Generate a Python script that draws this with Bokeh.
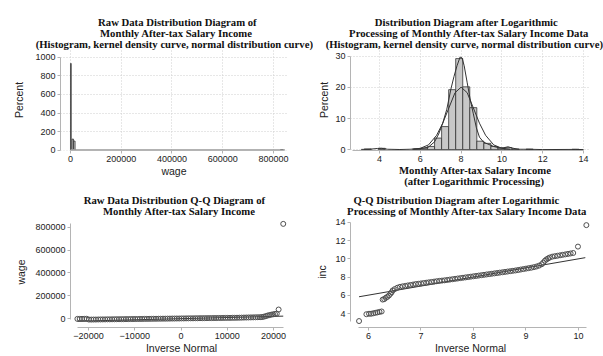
from bokeh.plotting import figure
from bokeh.layouts import column, row
from bokeh.models import Range1d, FixedTicker, BasicTickFormatter, Title
from bokeh.embed import file_html
from bokeh.resources import INLINE

# ---------------- data ----------------
# Panel 1: raw wage histogram (percent)
raw_bin_left = [0, 6000, 12000, 828000]
raw_bin_right = [3000, 12000, 18000, 838000]
raw_bin_pct = [935, 118, 97, 5]
raw_curve_x = [0, 20000, 60000, 200000, 500000, 845000]
raw_curve_y = [3, 2, 1, 0.5, 0.5, 0.5]
raw_hist_xticks = [0, 200000, 400000, 600000, 800000]
raw_hist_yticks = [0, 200, 400, 600, 800, 1000]

# Panel 2: log wage histogram (percent)
log_bin_left = [3.25, 3.94, 5.665, 6.01, 6.355, 6.70, 7.045, 7.39, 7.735, 8.08,
                8.425, 8.77, 9.115, 9.46, 9.805, 10.15, 10.495, 11.185, 13.435]
log_bin_right = [3.595, 4.285, 6.01, 6.355, 6.70, 7.045, 7.39, 7.735, 8.08, 8.425,
                 8.77, 9.115, 9.46, 9.805, 10.15, 10.495, 10.84, 11.53, 13.78]
log_bin_pct = [0.2, 0.4, 0.2, 0.4, 1.0, 3.7, 7.4, 19.3, 29.3, 20.2,
               13.5, 2.7, 2.0, 1.0, 0.5, 0.6, 0.2, 0.15, 0.1]
kde_x = [3.1, 3.5, 3.9, 4.1, 4.4, 5.0, 5.5, 6.0, 6.4, 6.7, 6.9, 7.1, 7.3, 7.5,
         7.65, 7.8, 7.95, 8.05, 8.15, 8.3, 8.45, 8.6, 8.75, 8.9, 9.1, 9.3, 9.6,
         9.9, 10.1, 10.3, 10.5, 10.8, 11.3, 12.0, 13.6, 14.0]
kde_y = [0.05, 0.1, 0.35, 0.4, 0.1, 0.02, 0.1, 0.3, 0.8, 2.5, 5.0, 8.5, 13.0, 19.5,
         23.5, 27.0, 29.8, 29.5, 27.0, 21.5, 16.0, 11.5, 7.0, 4.0, 2.4, 1.8, 1.0,
         0.5, 0.6, 0.9, 0.5, 0.1, 0.1, 0.0, 0.05, 0.0]
norm_x = [5.6, 6.0, 6.4, 6.8, 7.1, 7.4, 7.7, 8.0, 8.3, 8.6, 8.9, 9.2, 9.6, 10.0, 10.4]
norm_y = [0.1, 0.4, 1.5, 4.6, 8.5, 13.4, 18.3, 20.1, 18.3, 13.4, 8.5, 4.6, 1.5, 0.4, 0.1]
log_hist_xticks = [4, 6, 8, 10, 12, 14]
log_hist_yticks = [0, 10, 20, 30]

# Panel 3: Q-Q of raw wage
qq_raw_x = [-22400, -21900, -21400, -20900, -20400,
            -19900, -19400, -18900, -18400, -17900, -17400, -16900, -16400, -15900, -15400,
            -14900, -14400, -13900, -13400, -12900, -12400, -11900, -11400, -10900, -10400,
            -9900, -9400, -8900, -8400, -7900, -7400, -6900, -6400, -5900, -5400,
            -4900, -4400, -3900, -3400, -2900, -2400, -1900, -1400, -900, -400,
            100, 600, 1100, 1600, 2100, 2600, 3100, 3600, 4100, 4600,
            5100, 5600, 6100, 6600, 7100, 7600, 8100, 8600, 9100, 9600,
            10100, 10600, 11100, 11600, 12100, 12600, 13100, 13600, 14100, 14600,
            15100, 15600, 16100, 16600, 17100,
            17500, 17900, 18300, 18700, 19100, 19500, 19900, 20300, 20700,
            21100, 22100]
qq_raw_y = [-2000, -2000, -1500, -1500, -1000,
            -8000, -8000, -7500, -7500, -7000, -7000, -6500, -6500, -6000, -6000,
            -5500, -5500, -5000, -5000, -4500, -4500, -4000, -4000, -3500, -3500,
            -3000, -3000, -2500, -2500, -2000, -2000, -1500, -1500, -1000, -1000,
            -500, -500, 0, 0, 500, 500, 1000, 1000, 1500, 1500,
            2000, 2000, 2500, 2500, 3000, 3000, 3500, 3500, 4000, 4000,
            4500, 4500, 5000, 5000, 5500, 5500, 6000, 6000, 6500, 6500,
            7000, 7000, 7500, 7500, 8000, 8500, 9000, 9500, 10000, 10500,
            11000, 11500, 12000, 12500, 13000,
            14000, 17000, 22000, 27000, 31000, 35000, 38000, 41000, 44000,
            80000, 830000]
qq_raw_line_x = [-22400, 22100]
qq_raw_line_y = [-22400, 22100]
qq_raw_xticks = [-20000, -10000, 0, 10000, 20000]
qq_raw_yticks = [0, 200000, 400000, 600000, 800000]

# Panel 4: Q-Q of log wage
qq_log_x = [5.82,
            5.96, 6.01, 6.05, 6.09, 6.13, 6.17, 6.21, 6.25,
            6.27, 6.30, 6.33, 6.36, 6.39, 6.42, 6.44,
            6.46, 6.50, 6.55, 6.60, 6.65, 6.70, 6.75, 6.80, 6.85, 6.90,
            6.95, 7.00, 7.05, 7.10, 7.15, 7.20, 7.25, 7.30, 7.35, 7.40,
            7.45, 7.50, 7.55, 7.60, 7.65, 7.70, 7.75, 7.80, 7.85, 7.90,
            7.95, 8.00, 8.05, 8.10, 8.15, 8.20, 8.25, 8.30, 8.35, 8.40,
            8.45, 8.50, 8.55, 8.60, 8.65, 8.70, 8.75, 8.80, 8.85, 8.90,
            8.95, 9.00, 9.05, 9.10, 9.15, 9.20, 9.25, 9.30, 9.33, 9.36,
            9.39, 9.42, 9.45, 9.50, 9.55, 9.60, 9.65, 9.70, 9.75, 9.80,
            9.85, 9.90,
            9.99, 10.15]
qq_log_y = [3.2,
            3.95, 4.0, 4.0, 4.05, 4.1, 4.15, 4.2, 4.25,
            5.55, 5.6, 5.75, 5.85, 6.0, 6.2, 6.35,
            6.55, 6.7, 6.85, 6.95, 7.0, 7.05, 7.1, 7.15, 7.2, 7.25,
            7.28, 7.32, 7.36, 7.4, 7.44, 7.48, 7.52, 7.56, 7.6, 7.63,
            7.66, 7.7, 7.74, 7.78, 7.82, 7.86, 7.9, 7.94, 7.98, 8.02,
            8.06, 8.1, 8.14, 8.18, 8.22, 8.26, 8.3, 8.34, 8.38, 8.42,
            8.46, 8.5, 8.54, 8.58, 8.62, 8.66, 8.7, 8.74, 8.79, 8.84,
            8.89, 8.94, 8.99, 9.04, 9.1, 9.17, 9.27, 9.42, 9.6, 9.8,
            9.95, 10.05, 10.15, 10.25, 10.3, 10.35, 10.4, 10.45, 10.5, 10.55,
            10.6, 10.65,
            11.35, 13.7]
qq_log_line_x = [5.82, 10.13]
qq_log_line_y = [5.86, 10.14]
qq_log_xticks = [6, 7, 8, 9, 10]
qq_log_yticks = [4, 6, 8, 10, 12, 14]

# text content
title1 = ["Raw Data Distribution Diagram of",
          "Monthly After-tax Salary Income",
          "(Histogram, kernel density curve, normal distribution curve)"]
title2 = ["Distribution Diagram after Logarithmic",
          "Processing of Monthly After-tax Salary Income Data",
          "(Histogram, kernel density curve, normal distribution curve)"]
xlabel2 = ["Monthly After-tax Salary Income",
           "(after Logarithmic Processing)"]
title3 = ["Raw Data Distribution Q-Q Diagram of",
          "Monthly After-tax Salary Income"]
title4 = ["Q-Q Distribution Diagram after Logarithmic",
          "Processing of Monthly After-tax Salary Income Data"]

# ---------------- styling helpers ----------------
SERIF = "Liberation Serif"
SANS = "Liberation Sans"
AXC = "#b4b4b4"
DARK = "#333333"


def make_fig(w, h, xr, yr, borders):
    l, r, t, b = borders
    p = figure(width=w, height=h, x_range=Range1d(*xr), y_range=Range1d(*yr),
               output_backend="svg", toolbar_location=None,
               min_border_left=l, min_border_right=r,
               min_border_top=t, min_border_bottom=b)
    p.outline_line_color = None
    p.background_fill_color = "white"
    p.border_fill_color = "white"
    return p


def style_axes(p, xticks, yticks, xb, yb, xlabel, ylabel, ylab_standoff, grid):
    p.xaxis.ticker = FixedTicker(ticks=xticks)
    p.yaxis.ticker = FixedTicker(ticks=yticks)
    for ax in (p.xaxis[0], p.yaxis[0]):
        ax.formatter = BasicTickFormatter(use_scientific=False)
        ax.axis_line_color = AXC
        ax.axis_line_width = 1
        ax.major_tick_line_color = AXC
        ax.major_tick_out = 3
        ax.major_tick_in = 0
        ax.minor_tick_line_color = None
        ax.major_label_text_font = SANS
        ax.major_label_text_font_size = "9px"
        ax.major_label_text_color = "#222222"
        ax.major_label_standoff = 2
        ax.axis_label_text_font = SANS
        ax.axis_label_text_font_size = "10.5px"
        ax.axis_label_text_font_style = "normal"
        ax.axis_label_text_color = "#222222"
    p.xaxis.bounds = xb
    p.yaxis.bounds = yb
    if xlabel:
        p.xaxis.axis_label = xlabel
        p.xaxis.axis_label_standoff = 0
    p.yaxis.axis_label = ylabel
    p.yaxis.axis_label_standoff = ylab_standoff
    if grid:
        p.xgrid.ticker = FixedTicker(ticks=xticks)
        p.ygrid.ticker = FixedTicker(ticks=yticks)
        for g in (p.xgrid[0], p.ygrid[0]):
            g.grid_line_color = "#cfcfcf"
            g.grid_line_dash = "1 2"
            g.grid_line_width = 1
    else:
        p.xgrid.visible = False
        p.ygrid.visible = False


def add_titles(p, lines, offsets, place):
    """One left-aligned Title per line (offset = px from the frame's left edge)."""
    items = list(zip(lines, offsets))
    if place == "above":
        items = items[::-1]
    for txt, off in items:
        p.add_layout(Title(text=txt, align="left", offset=off, standoff=-2.8,
                           vertical_align="middle",
                           text_font=SERIF, text_font_size="10.7px",
                           text_font_style="bold", text_color="#111111"), place)


# ---------------- panel 1 ----------------
p1 = make_fig(313, 190, (-39410, 855200), (-5, 1086), (60, 26, 49, 40))
p1.quad(left=raw_bin_left, right=raw_bin_right, bottom=0, top=raw_bin_pct,
        fill_color="#cccccc", line_color=DARK, line_width=0.8)
p1.line(raw_curve_x, raw_curve_y, line_color="#999999", line_width=1.5)
style_axes(p1, raw_hist_xticks, raw_hist_yticks, (0, 845000), (0, 1000),
           "wage", "Percent", 7, True)
add_titles(p1, title1, [37.6, 39.5, -24.8], "above")

# ---------------- panel 2 ----------------
p2 = make_fig(290, 190, (2.578, 14.343), (-0.3, 32.23), (37, 13, 49, 40))
p2.quad(left=log_bin_left, right=log_bin_right, bottom=0, top=log_bin_pct,
        fill_color="#c8c8c8", line_color=DARK, line_width=0.8)
p2.line(kde_x, kde_y, line_color=DARK, line_width=1)
p2.line(norm_x, norm_y, line_color=DARK, line_width=1)
style_axes(p2, log_hist_xticks, log_hist_yticks, (2.7, 14), (0, 30),
           None, "Percent", 2, True)
add_titles(p2, title2, [24.3, -1.4, -24.8], "above")
add_titles(p2, xlabel2, [48.5, 53.8], "below")

# ---------------- panel 3 ----------------
p3 = make_fig(313, 166, (-23892, 24100), (-77418, 894622), (70, 21, 26, 27))
p3.line(qq_raw_line_x, qq_raw_line_y, line_color=DARK, line_width=1)
p3.scatter(qq_raw_x, qq_raw_y, marker="circle", size=5, fill_color=None,
           line_color="#505050", line_width=1)
style_axes(p3, qq_raw_xticks, qq_raw_yticks, (-22400, 22100), (-10000, 830000),
           "Inverse Normal", "wage", 5, False)
add_titles(p3, title3, [13.2, 32.5], "above")

# ---------------- panel 4 ----------------
p4 = make_fig(290, 166, (5.657, 10.229), (2.495, 14.645), (37, 13, 26, 27))
p4.line(qq_log_line_x, qq_log_line_y, line_color=DARK, line_width=1)
p4.scatter(qq_log_x, qq_log_y, marker="circle", size=5, fill_color=None,
           line_color="#505050", line_width=1)
style_axes(p4, qq_log_xticks, qq_log_yticks, (5.8, 10.15), (3.2, 14),
           "Inverse Normal", "inc", 4, False)
add_titles(p4, title4, [2.9, -3.4], "above")

layout = column(row(p1, p2), row(p3, p4))
open("out.html", "w").write(file_html(layout, INLINE))
